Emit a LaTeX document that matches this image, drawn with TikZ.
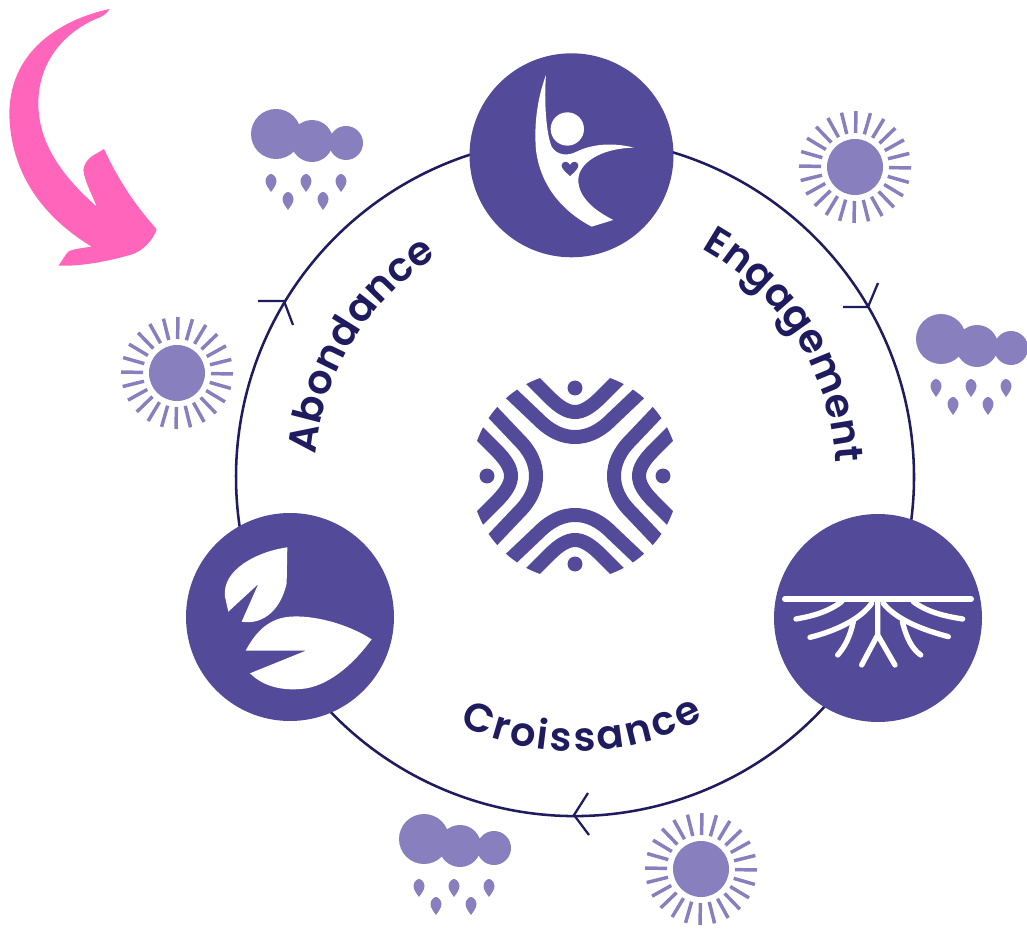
\documentclass[tikz,border=0pt]{standalone}
\usepackage{fontspec}
\setmainfont{Poppins}[BoldFont={Poppins SemiBold}]
\usetikzlibrary{decorations.text}
\definecolor{deep}{HTML}{544A9A}
\definecolor{lav}{HTML}{8880BE}
\definecolor{ink}{HTML}{1E1B5E}
\definecolor{hot}{HTML}{FF66BB}
\tikzset{x=.75pt,y=-.75pt,
  hub/.style={circle,fill=deep,minimum size=156pt,inner sep=0pt},
  ring/.style={draw=ink,line width=1.9pt},
  chev/.style={draw=ink,line width=1.7pt,line join=miter},
  ray/.style={lav,line width=2.6pt},
  band/.style={deep,line width=10.5pt},
  rootl/.style={white,line width=4pt,line cap=round},
  arctext/.style={decorate,decoration={text along path,text align={fit to path},
     text={|\fontsize{30}{30}\bfseries\color{ink}|#1}}},
  raincloud/.pic={
    \fill[lav] (0,0) circle[radius=18.75pt] (36,7) circle[radius=15.75pt] (70,9) circle[radius=12.75pt];
    \foreach \dx/\dy in {-5/49,30/49,65/49,12/67,47/67}
      \fill[lav] (\dx,\dy+9) .. controls (\dx-2,\dy+6) and (\dx-5.5,\dy+2) .. (\dx-5.5,\dy-2)
        .. controls (\dx-5.5,\dy-6) and (\dx-2,\dy-9) .. (\dx,\dy-9)
        .. controls (\dx+2,\dy-9) and (\dx+5.5,\dy-6) .. (\dx+5.5,\dy-2)
        .. controls (\dx+5.5,\dy+2) and (\dx+2,\dy+6) .. (\dx,\dy+9) -- cycle;
  },
  sunicon/.pic={
    \fill[lav] (0,0) circle[radius=21pt];
    \foreach \a in {0,15,...,345}
      \draw[ray] ({34*cos(\a+1)},{34*sin(\a+1)}) -- ({56*cos(\a+1)},{56*sin(\a+1)});
  }
}
\begin{document}
\begin{tikzpicture}
\useasboundingbox (0,0) rectangle (1027,930);
\fill[white] (0,0) rectangle (1027,930);
\coordinate (centre) at (575,477);
% ring sections run under the hubs
\coordinate (ringT) at ({575+339*cos(92)},{477-339*sin(92)});
\coordinate (ringR) at ({575+339*cos(-25)},{477-339*sin(-25)});
\coordinate (ringL) at ({575+339*cos(206)},{477-339*sin(206)});
\draw[ring] (ringT) arc[start angle=92,end angle=-25,radius=254.25pt];
\draw[ring] (ringR) arc[start angle=-25,end angle=-154,radius=254.25pt];
\draw[ring] (ringL) arc[start angle=206,end angle=92,radius=254.25pt];
\node[hub,minimum size=153pt] (top) at (571.5,155.3) {};
\node[hub] (right) at (878,618) {};
\node[hub] (left) at (290,617) {};
% chevrons
\coordinate (a1) at (868,307);
\coordinate (a2) at (574,815);
\coordinate (a3) at (284,301);
\draw[chev] (843,307) -- (a1) -- (878,283);
\draw[chev] (588,793) -- (a2) -- (589,835);
\draw[chev] (258,301) -- (a3) -- (293,325);
% texts
\path[arctext=Abondance] ({575+260*cos(175)},{477-260*sin(175)}) arc[start angle=175,end angle=122,radius=195pt];
\path[arctext=Engagement] ({575+261*cos(61)},{477-261*sin(61)}) arc[start angle=61,end angle=3,radius=195.75pt];
\path[arctext=Croissance] ({575+274*cos(245)},{477-274*sin(245)}) arc[start angle=245,end angle=298,radius=205.5pt];
% person
\begin{scope}[shift={(460,40)},scale=.3333]
\fill[white] (258,105) .. controls (230,180) and (222,260) .. (228,330)
  .. controls (240,430) and (300,510) .. (395,560) -- (460,540)
  .. controls (400,510) and (355,470) .. (355,420)
  .. controls (355,370) and (420,325) .. (522,323)
  .. controls (450,305) and (390,315) .. (350,335)
  .. controls (320,350) and (290,345) .. (275,320)
  .. controls (258,280) and (252,180) .. (258,105) -- cycle;
\fill[white] (322,267) circle[radius=37.5pt];
\fill[deep] (330,408) .. controls (315,395) and (305,385) .. (305,377)
  .. controls (305,362) and (325,362) .. (330,375)
  .. controls (335,362) and (355,362) .. (355,377)
  .. controls (355,385) and (345,395) .. (330,408) -- cycle;
\end{scope}
% roots
\begin{scope}[shift={(770,510)},scale=.3333]
\draw[rootl,line width=4.5pt] (45,267) -- (603,267);
\draw[rootl] (323,270) -- (323,375) (275,465) -- (323,375) -- (375,465);
\draw[rootl] (215,275) .. controls (175,305) and (130,318) .. (78,327);
\draw[rootl] (305,280) .. controls (270,330) and (190,365) .. (120,382);
\draw[rootl] (250,335) .. controls (240,380) and (225,410) .. (203,435);
\draw[rootl] (430,275) .. controls (470,305) and (520,318) .. (578,327);
\draw[rootl] (340,280) .. controls (380,330) and (460,360) .. (535,380);
\draw[rootl] (397,335) .. controls (410,385) and (425,415) .. (452,435);
\end{scope}
% leaves
\begin{scope}[shift={(180,510)},scale=.3333]
\fill[white] (322,112) .. controls (230,125) and (125,180) .. (135,260) -- (145,305) -- (235,222) -- (185,335)
  .. controls (240,345) and (300,310) .. (320,220) -- cycle;
\fill[white] (575,388) .. controls (500,340) and (400,315) .. (330,320)
  .. controls (270,325) and (230,360) .. (197,422) -- (378,422) -- (210,490)
  .. controls (250,530) and (310,545) .. (380,535)
  .. controls (460,520) and (530,450) .. (575,388) -- cycle;
\end{scope}
% central emblem
\begin{scope}
\clip (575,476) circle[radius=78pt];
\foreach \r in {0,90,180,270}{
  \begin{scope}[shift={(575,476)},rotate=\r]
  \draw[band] (-50,-103) -- (-26,-79) .. controls (-16,-69) and (-8,-64) .. (0,-64)
     .. controls (8,-64) and (16,-69) .. (26,-79) -- (50,-103);
  \draw[band] (-75,-93) -- (-36,-56) .. controls (-24,-44) and (-12,-39) .. (0,-39)
     .. controls (12,-39) and (24,-44) .. (36,-56) -- (75,-93);
  \fill[deep] (0,-88) circle[radius=5.6pt];
  \end{scope}
}
\end{scope}
% weather
\pic at (276,134) {raincloud};
\pic at (941,339) {raincloud};
\pic at (424,839) {raincloud};
\pic at (855,167) {sunicon};
\pic at (177,373) {sunicon};
\pic at (701,869) {sunicon};
% pink arrow
\begin{scope}[scale=.3333]
\fill[hot] (328,27) .. controls (200,55) and (30,140) .. (28,340)
  .. controls (30,500) and (110,640) .. (275,740)
  .. controls (240,745) and (215,748) .. (205,755)
  .. controls (195,765) and (185,785) .. (175,797)
  .. controls (250,800) and (340,780) .. (400,762)
  .. controls (430,750) and (460,720) .. (470,688)
  .. controls (410,620) and (360,550) .. (312,447)
  .. controls (295,460) and (255,470) .. (250,510)
  .. controls (255,550) and (280,590) .. (290,620)
  .. controls (200,540) and (115,440) .. (115,310)
  .. controls (115,180) and (200,90) .. (300,52)
  .. controls (315,45) and (325,35) .. (328,27) -- cycle;
\end{scope}
\end{tikzpicture}
\end{document}
